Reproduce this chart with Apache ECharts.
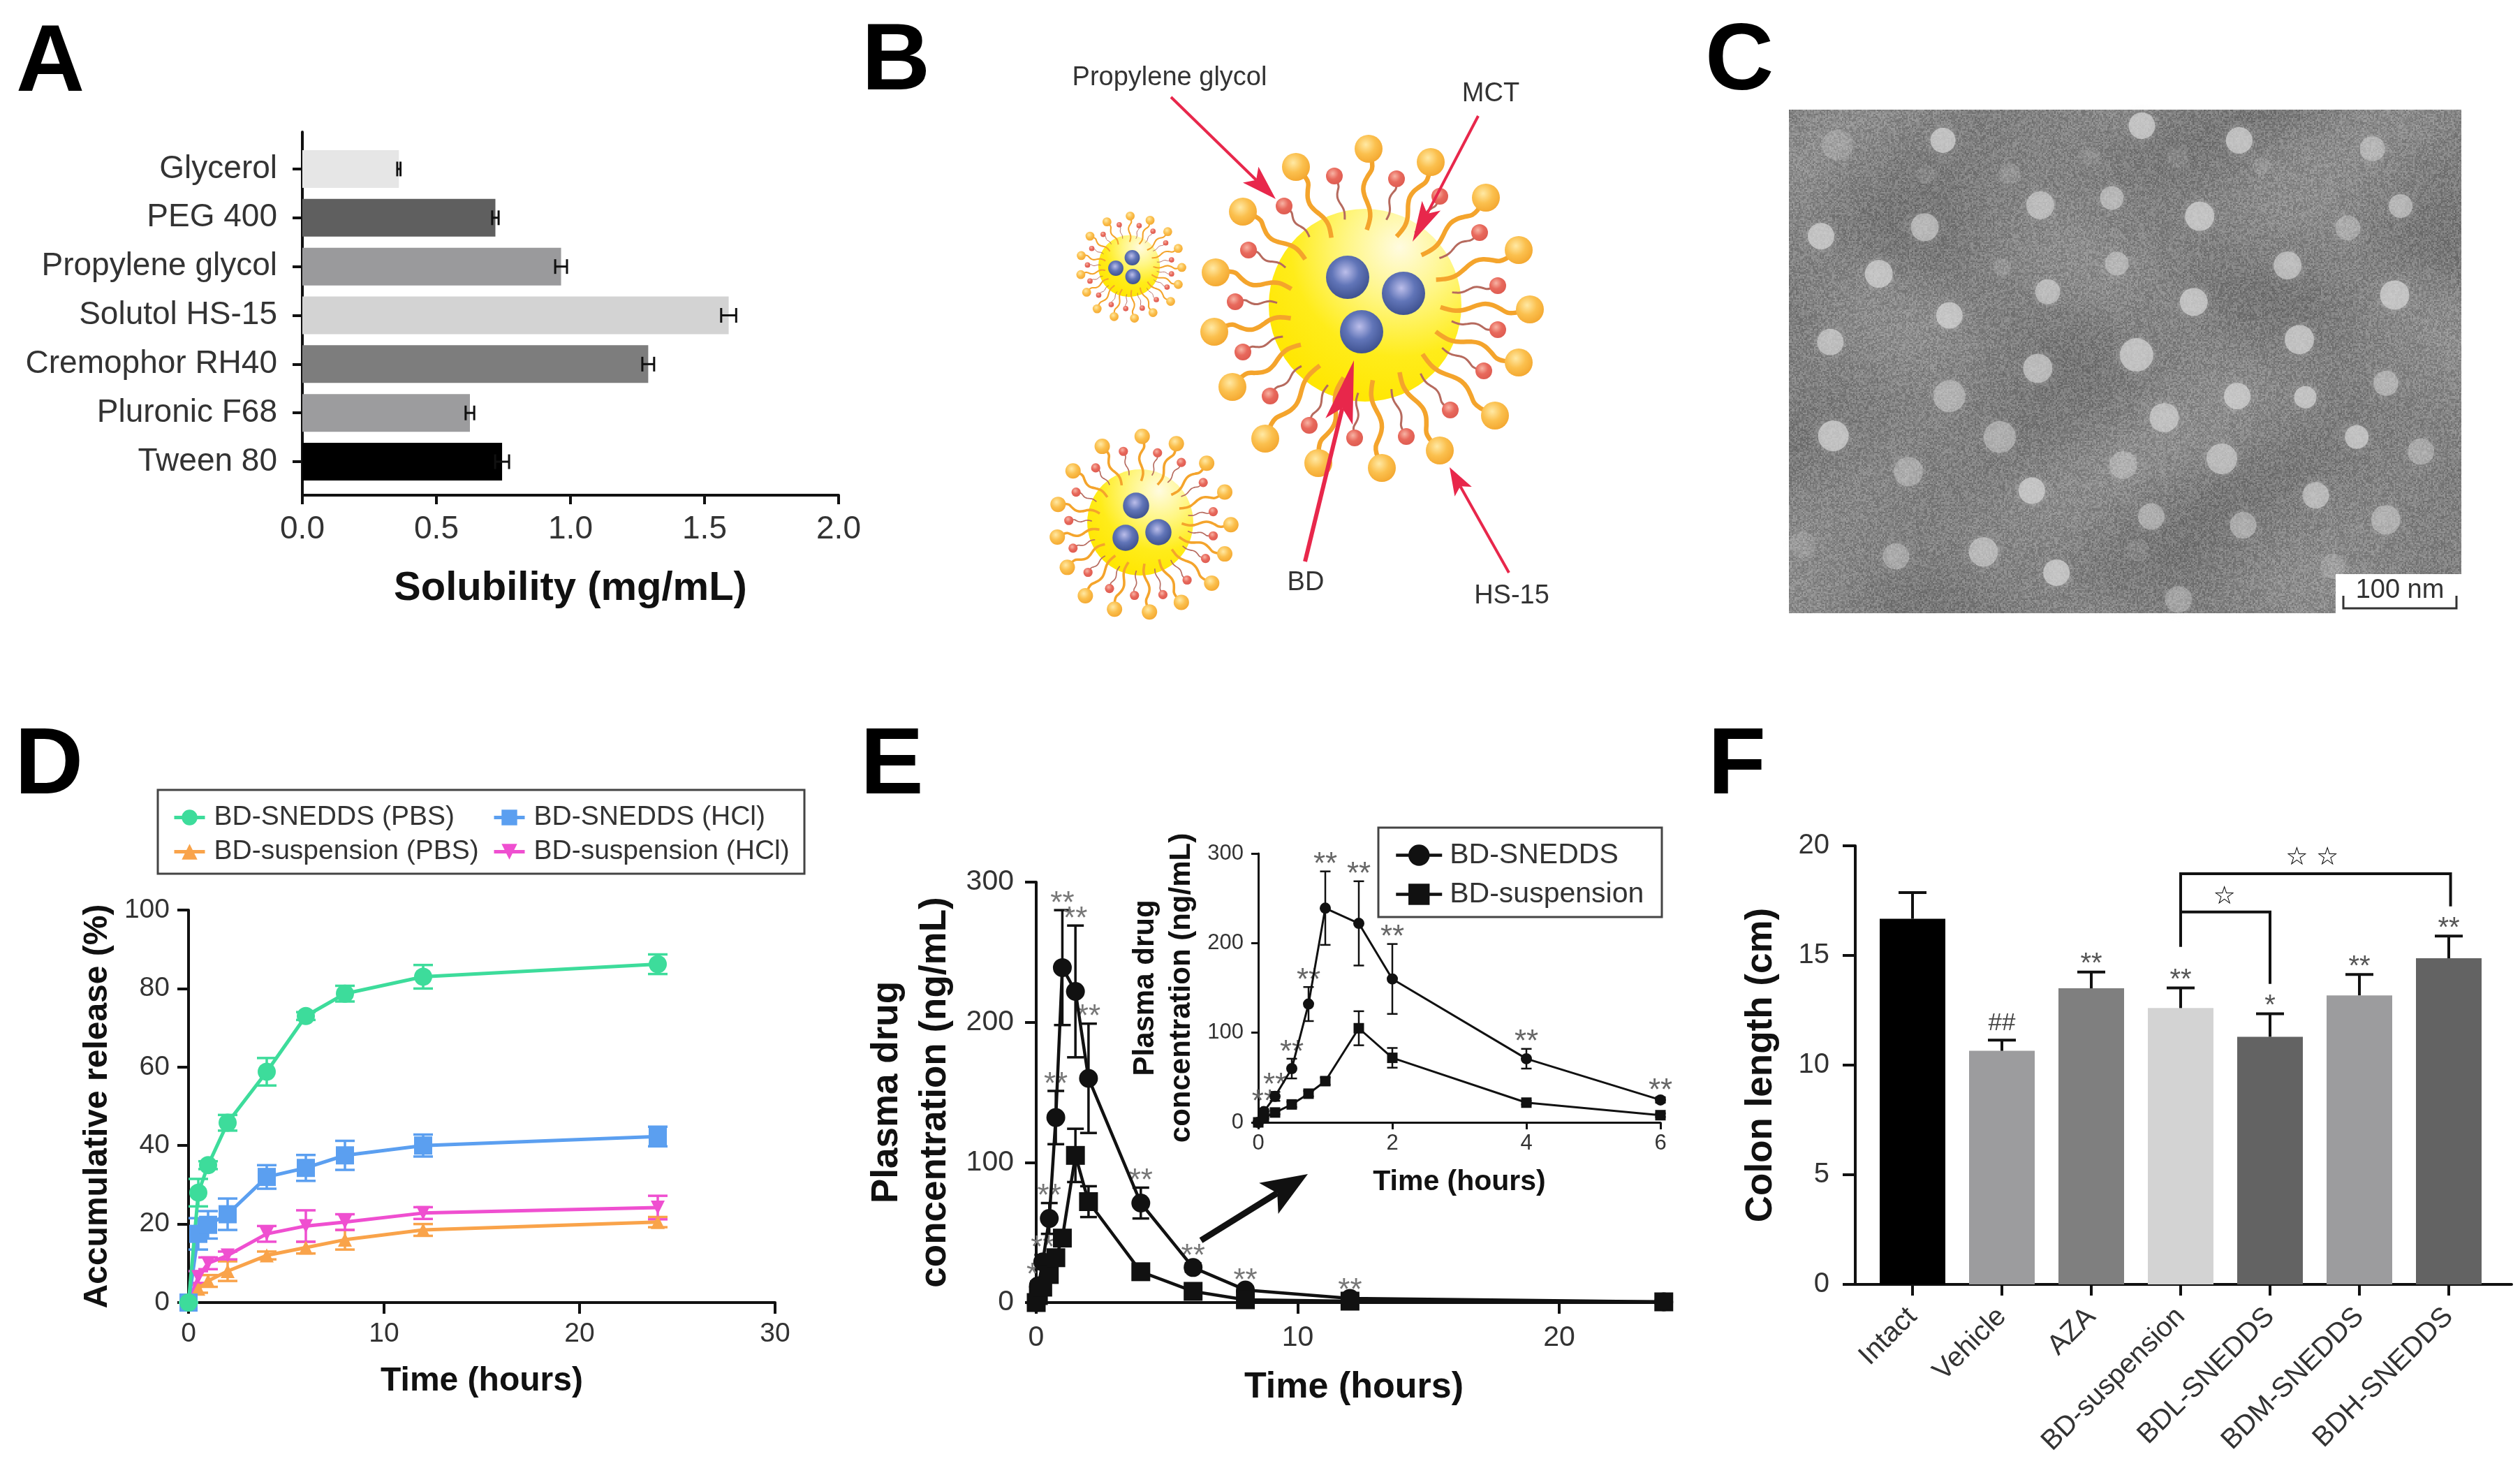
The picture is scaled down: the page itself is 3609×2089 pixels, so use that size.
<!DOCTYPE html>
<html>
<head>
<meta charset="utf-8">
<style>html,body{margin:0;padding:0;background:#fff}#chart{width:3609px;height:2089px}</style>
<script src="https://cdn.jsdelivr.net/npm/echarts@6/dist/echarts.min.js"></script>
</head>
<body>
<div id="chart"></div>
<script>
// panel A
const solvents = ['Glycerol', 'PEG 400', 'Propylene glycol', 'Solutol HS-15', 'Cremophor RH40', 'Pluronic F68', 'Tween 80'];
const solubility = [0.36, 0.72, 0.965, 1.59, 1.29, 0.625, 0.745];
const solubilityErr = [0.006, 0.012, 0.022, 0.028, 0.022, 0.016, 0.026];
const solventColors = ['#e6e6e6', '#5f5f5f', '#9a9a9c', '#d3d3d3', '#7d7d7d', '#9c9c9e', '#000000'];

// panel C, particle x, y, diameter, strength
const temParticles = [
  [400,192,36,1],[803,152,38,1],[1000,192,38,1],[1270,215,36,.7],[597,370,40,.85],[742,350,34,.8],[920,400,42,1],
  [1327,372,34,.8],[363,430,40,.85],[153,455,38,1],[1220,432,36,.55],[1098,535,40,.9],[752,530,34,.7],[270,558,40,1],
  [612,607,36,.85],[908,635,40,1],[1315,616,42,1],[413,672,38,1],[172,745,38,.9],[1122,738,42,1],[792,780,48,1],
  [592,817,42,.9],[1297,858,36,.7],[996,893,38,1],[1134,896,32,1],[413,893,46,.65],[848,952,42,.9],[178,1002,44,1],
  [515,1005,46,.65],[1238,1005,34,1],[1368,1045,38,.55],[965,1065,44,.85],[330,1100,42,.55],[765,1082,40,.55],[580,1152,38,1],
  [1155,1165,38,.85],[822,1223,38,.65],[1008,1247,38,.65],[1297,1232,42,.65],[482,1320,42,.8],[305,1332,38,.55],[630,1377,38,1],
  [877,1450,38,.5],[115,1300,38,.22],[186,205,44,.32],[1190,1360,36,.3],[795,1315,32,.16],[535,283,30,.25],[365,285,26,.16],
  [700,235,26,.16],[875,240,30,.16],[1045,262,26,.2],[520,540,26,.25]
];

// panel D
const releaseTime = [0, 0.5, 1, 2, 4, 6, 8, 12, 24];
const sneddsPbs = [0, 28, 35, 45.8, 58.8, 73, 78.7, 83, 86.2];
const sneddsPbsErr = [0, 3.5, 1, 2, 3.5, 1, 2, 3, 2.5];
const sneddsHcl = [0, 17.5, 19.8, 22.5, 32, 34.3, 37.5, 40, 42.3];
const sneddsHclErr = [0, 4, 3.5, 4, 3, 3.3, 3.7, 2.8, 2.5];
const suspPbs = [0, 3.5, 5.5, 8, 12, 14, 16, 18.5, 20.5];
const suspPbsErr = [0, 1, 1.5, 2.5, 1, 1.5, 2.5, 1.5, 1.3];
const suspHcl = [0, 6.5, 10, 12, 17.5, 19.5, 20.5, 22.8, 24.2];
const suspHclErr = [0, 1.5, 1.5, 1, 2, 4, 2, 1.5, 3];

// panel E
const plasmaTime = [0, 0.083, 0.25, 0.5, 0.75, 1, 1.5, 2, 4, 6, 8, 12, 24];
const plasmaSnedds = [0, 12, 29, 60, 132, 239, 222, 160, 71, 25, 9, 3, 0.5];
const plasmaSneddsErr = [0, 3, 5, 11, 19, 41, 47, 39, 11, 3, 2, 1, 0];
const plasmaSusp = [0, 5, 11, 20, 32, 46, 105, 72, 22, 8, 2, 1, 0.5];
const plasmaSuspErr = [0, 1, 2, 3, 3, 4, 19, 11, 2, 2, 1, 0.5, 0];

// panel F
const groups = ['Intact', 'Vehicle', 'AZA', 'BD-suspension', 'BDL-SNEDDS', 'BDM-SNEDDS', 'BDH-SNEDDS'];
const colonLength = [16.67, 10.65, 13.5, 12.6, 11.29, 13.18, 14.87];
const colonErr = [1.2, 0.49, 0.74, 0.92, 1.05, 0.95, 1.01];
const colonMarks = ['', '', '**', '**', '*', '**', '**'];
const colonHashes = ['', '##', '', '', '', '', ''];
const groupColors = ['#000000', '#9c9c9e', '#7f7f7f', '#d3d3d3', '#636363', '#9c9c9e', '#636363'];
// from, to, top, bottom at from, bottom at to
const colonBrackets = [[3, 6.02, 18.73, 15.4, 17.24], [3, 4, 16.98, 15.4, 13.7]];
const colonStars = [[4.47, 19.45, '\u2606 \u2606'], [3.49, 17.65, '\u2606']];

const FONT = '"Liberation Sans", Arial, sans-serif';
const INK = '#333333';
const GREEN = '#3ddc9b', BLUE = '#5b9ff0', ORANGE = '#f9a34a', PINK = '#ef4fd0';

function errorBars(xi, yi, rows, color, cap, lw, horizontal, topOnly) {
  return {
    type: 'custom', xAxisIndex: xi, yAxisIndex: yi, silent: true, clip: false, z: 3,
    data: rows,
    encode: horizontal ? { x: [0, 1], y: 2 } : { x: 0, y: [1, 2] },
    renderItem: function (params, api) {
      const a = horizontal ? api.coord([api.value(0), api.value(2)]) : api.coord([api.value(0), api.value(1)]);
      const b = horizontal ? api.coord([api.value(1), api.value(2)]) : api.coord([api.value(0), api.value(2)]);
      const style = { stroke: color, lineWidth: lw, fill: null };
      const capAt = p => horizontal
        ? { type: 'line', shape: { x1: p[0], y1: p[1] - cap / 2, x2: p[0], y2: p[1] + cap / 2 }, style }
        : { type: 'line', shape: { x1: p[0] - cap / 2, y1: p[1], x2: p[0] + cap / 2, y2: p[1] }, style };
      const kids = [{ type: 'line', shape: { x1: a[0], y1: a[1], x2: b[0], y2: b[1] }, style }, capAt(b)];
      if (!topOnly) kids.push(capAt(a));
      return { type: 'group', children: kids };
    }
  };
}

function spreadRows(xs, ys, errs) {
  return xs.map((x, i) => [x, ys[i] - errs[i], ys[i] + errs[i]]);
}

function marks(xi, yi, rows, size, color, dist, family) {
  return {
    type: 'scatter', xAxisIndex: xi, yAxisIndex: yi, silent: true, clip: false, z: 4,
    symbolSize: 1, itemStyle: { opacity: 0 },
    data: rows,
    label: {
      show: true, position: dist === null ? 'inside' : 'top', distance: dist || 0,
      formatter: p => p.data[2], fontSize: size, color: color, fontFamily: family || FONT, opacity: 1
    }
  };
}

function lineSeries(name, xi, yi, xs, ys, color, symbol, size, lw, rotate) {
  return {
    name: name, type: 'line', xAxisIndex: xi, yAxisIndex: yi, clip: false, z: 5,
    symbol: symbol, symbolSize: size, symbolRotate: rotate || 0, showAllSymbol: true,
    lineStyle: { color: color, width: lw }, itemStyle: { color: color, opacity: 1 },
    data: xs.map((x, i) => [x, ys[i]])
  };
}

function plainAxis(extra) {
  return Object.assign({
    type: 'value', nameLocation: 'middle', nameMoveOverlap: false, splitLine: { show: false },
    axisLine: { show: true, onZero: false, lineStyle: { color: '#111', width: 4 } },
    axisTick: { show: true, length: 16, lineStyle: { color: '#111', width: 4 } },
    nameTextStyle: { fontFamily: FONT, fontWeight: 'bold', color: '#111', fontSize: 50 }
  }, extra);
}

function tickFont(size, margin) {
  return { fontFamily: FONT, color: INK, fontSize: size, margin: margin };
}

function box(left, top, width, height) {
  return { left, top, width, height, containLabel: false, outerBoundsMode: 'none' };
}

// panel B drawing
const orangeHeads = [[5,-224],[94,-205],[173,-154],[220,-79],[236,6],[220,82],[186,158],[107,208],[24,233],[-67,226],[-143,191],[-190,117],[-216,38],[-214,-47],[-175,-134],[-99,-198]];
const redHeads = [[-44,-185],[45,-181],[107,-156],[164,-104],[190,-28],[190,35],[170,94],[122,150],[59,188],[-15,190],[-80,172],[-136,130],[-175,67],[-186,-5],[-167,-79],[-116,-142]];
const bubbles = [
  { x: 1955, y: 437, k: 1, spheres: [[-25,-40],[55,-17],[-5,38]] },
  { x: 1617, y: 381, k: 0.32, spheres: [[4.5,-12],[-19,3],[5.5,15]] },
  { x: 1633, y: 748, k: 0.55, spheres: [[-6,-24],[-21,22],[26,14]] }
];

function radial(x, y, r, stops) {
  return { type: 'radial', x, y, r, colorStops: stops.map((c, i) => ({ offset: i / (stops.length - 1), color: c })) };
}

function tail(b, head, innerR, amp, color, lw) {
  const hx = b.x + head[0] * b.k, hy = b.y + head[1] * b.k;
  const len = Math.hypot(head[0], head[1]);
  const ux = head[0] / len, uy = head[1] / len;
  const ex = b.x + ux * innerR * b.k, ey = b.y + uy * innerR * b.k;
  const pts = [];
  for (let i = 0; i <= 12; i++) {
    const t = i / 12;
    const w = Math.sin(t * Math.PI * 3) * amp * b.k * Math.min(1, t * 4) * (1 - t * 0.6);
    pts.push([hx + (ex - hx) * t - uy * w, hy + (ey - hy) * t + ux * w]);
  }
  return { type: 'polyline', shape: { points: pts, smooth: 0.4 }, style: { stroke: color, lineWidth: Math.max(1, lw * b.k), fill: null }, z: 2 };
}

function drawBubble(b) {
  const out = [{
    type: 'circle', shape: { cx: b.x, cy: b.y, r: 138 * b.k }, z: 1,
    style: { fill: radial(0.68, 0.2, 0.85, ['#fffbe0', '#fff683', '#ffec1a', '#ffe600']) }
  }];
  orangeHeads.forEach(h => {
    out.push(tail(b, h, 108, 9, '#f4a42c', 6.5));
    out.push({
      type: 'circle', shape: { cx: b.x + h[0] * b.k, cy: b.y + h[1] * b.k, r: 20 * b.k }, z: 3,
      style: { fill: radial(0.4, 0.35, 0.7, ['#ffe9a4', '#fbc04e', '#f3a62e']) }
    });
  });
  redHeads.forEach(h => {
    out.push(tail(b, h, 126, 4, '#b66a5e', 3));
    out.push({
      type: 'circle', shape: { cx: b.x + h[0] * b.k, cy: b.y + h[1] * b.k, r: 12 * b.k }, z: 3,
      style: { fill: radial(0.4, 0.35, 0.7, ['#f7b3a4', '#e8695c', '#dd5a50']) }
    });
  });
  b.spheres.forEach(s => {
    out.push({
      type: 'circle', shape: { cx: b.x + s[0], cy: b.y + s[1], r: 31 * (b.k === 1 ? 1 : b.k * 1.1) }, z: 4,
      style: { fill: radial(0.45, 0.38, 0.62, ['#bcbeea', '#6175b8', '#3f5290']) }
    });
  });
  return out;
}

function arrow(x1, y1, x2, y2, color, lw, len, wid) {
  const d = Math.hypot(x2 - x1, y2 - y1), ux = (x2 - x1) / d, uy = (y2 - y1) / d;
  const bx = x2 - ux * len, by = y2 - uy * len;
  const nx = bx + ux * len * 0.22, ny = by + uy * len * 0.22;
  return [
    { type: 'line', shape: { x1, y1, x2: nx, y2: ny }, style: { stroke: color, lineWidth: lw }, z: 6 },
    { type: 'polygon', z: 6, shape: { points: [[x2, y2], [bx - uy * wid, by + ux * wid], [nx, ny], [bx + uy * wid, by - ux * wid]] }, style: { fill: color } }
  ];
}

function label(text, x, y, size, extra) {
  return {
    type: 'text', z: 7, x, y,
    style: Object.assign({ text, font: size + 'px ' + FONT, fill: INK, align: 'center', verticalAlign: 'middle' }, extra || {})
  };
}

// panel C grain, a fixed hash pattern, not data
function temTexture(w, h) {
  const c = document.createElement('canvas');
  c.width = w; c.height = h;
  const ctx = c.getContext('2d');
  const img = ctx.createImageData(w, h);
  for (let y = 0; y < h; y++) {
    for (let x = 0; x < w; x++) {
      const gx = x >> 1, gy = y >> 1;
      const s = Math.sin(gx * 12.9898 + gy * 78.233) * 43758.5453;
      const n = s - Math.floor(s) - 0.5;
      const m = Math.sin(x / 61 + Math.sin(y / 83) * 2) * 6 + Math.sin(y / 47 + x / 131) * 5;
      const v = 130 + n * 42 + m;
      const p = (y * w + x) * 4;
      img.data[p] = img.data[p + 1] = img.data[p + 2] = v;
      img.data[p + 3] = 255;
    }
  }
  ctx.putImageData(img, 0, 0);
  return c;
}

const graphics = [];
bubbles.forEach(b => graphics.push(...drawBubble(b)));
const RED = '#e8274b';
graphics.push(...arrow(1677, 139, 1827, 285, RED, 4, 50, 16));
graphics.push(...arrow(2117, 166, 2023, 346, RED, 4, 58, 15));
graphics.push(...arrow(1869, 804, 1939, 516, RED, 6, 90, 20));
graphics.push(...arrow(2161, 820, 2076, 669, RED, 4, 40, 14));
graphics.push(label('Propylene glycol', 1675, 112, 38));
graphics.push(label('MCT', 2135, 135, 38));
graphics.push(label('BD', 1870, 835, 38));
graphics.push(label('HS-15', 2165, 854, 38));

const grain = temTexture(963, 721);
graphics.push({ type: 'image', z: 0, style: { image: grain, x: 2562, y: 157, width: 963, height: 721 } });
graphics.push({ type: 'image', z: 5, silent: true, style: { image: grain, x: 2562, y: 157, width: 963, height: 721, opacity: 0.18 } });
graphics.push({ type: 'rect', z: 10, shape: { x: 3345, y: 822, width: 180, height: 56 }, style: { fill: '#fff' } });
graphics.push({ type: 'polyline', z: 11, shape: { points: [[3356, 853], [3356, 871], [3518, 871], [3518, 853]] }, style: { stroke: '#333', lineWidth: 3, fill: null } });
graphics.push(Object.assign(label('100 nm', 3437, 846, 38), { z: 11 }));

graphics.push({ type: 'rect', z: 1, shape: { x: 226, y: 1131, width: 926, height: 120 }, style: { fill: '#fff', stroke: '#444', lineWidth: 3 } });
graphics.push({ type: 'rect', z: 8, shape: { x: 1974, y: 1185, width: 406, height: 128 }, style: { fill: 'rgba(255,255,255,0)', stroke: '#444', lineWidth: 3 } });
graphics.push(...arrow(1720, 1776, 1873, 1681, '#111', 9, 66, 26));

const legendText = { fontFamily: FONT, fontSize: 39, color: INK, padding: [0, 0, 0, 8] };
const insetLegendText = { fontFamily: FONT, fontSize: 41, color: INK, padding: [0, 0, 0, 6] };
const insetCount = 10; // inset stops at 6 h

const option = {
  animation: false,
  backgroundColor: '#fff',
  textStyle: { fontFamily: FONT },
  title: [
    ['A', 23, 24], ['B', 1234, 22], ['C', 2442, 22], ['D', 21, 1030], ['E', 1232, 1030], ['F', 2446, 1030]
  ].map(t => ({
    text: t[0], left: t[1], top: t[2], padding: 0,
    textStyle: { fontFamily: FONT, fontWeight: 'bold', fontSize: 136, color: '#000' }
  })),
  legend: [
    { left: 247, top: 1151, orient: 'vertical', padding: 0, itemWidth: 44, itemHeight: 28, itemGap: 10, z: 6, selectedMode: false, lineStyle: { width: 5 }, data: ['BD-SNEDDS (PBS)', 'BD-suspension (PBS)'], textStyle: legendText },
    { left: 705, top: 1151, orient: 'vertical', padding: 0, itemWidth: 44, itemHeight: 28, itemGap: 10, z: 6, selectedMode: false, lineStyle: { width: 5 }, data: ['BD-SNEDDS (HCl)', 'BD-suspension (HCl)'], textStyle: legendText },
    { left: 1997, top: 1204, orient: 'vertical', padding: 0, itemWidth: 66, itemHeight: 38, itemGap: 15, z: 9, selectedMode: false, lineStyle: { width: 4.5 }, data: ['BD-SNEDDS', 'BD-suspension'], textStyle: insetLegendText }
  ],
  graphic: { elements: graphics },
  grid: [
    box(433, 189, 768, 520),   // 0 A frame
    box(433, 207, 768, 489),   // 1 A bars
    box(270, 1303, 840, 562),  // 2 D
    box(1484, 1263, 910, 602), // 3 E main
    box(1802, 1222, 576, 385), // 4 E inset
    box(2657, 1211, 940, 628), // 5 F frame
    box(2675, 1211, 896, 628), // 6 F bars
    box(2562, 157, 963, 721)   // 7 C
  ],
  xAxis: [
    plainAxis({
      gridIndex: 0, min: 0, max: 2, interval: 0.5, name: 'Solubility (mg/mL)', nameGap: 105,
      nameTextStyle: { fontFamily: FONT, fontWeight: 'bold', color: '#111', fontSize: 58 },
      axisTick: { length: 13, lineStyle: { color: '#111', width: 4 } },
      axisLabel: Object.assign(tickFont(46, 26), { formatter: v => v.toFixed(1) })
    }),
    { type: 'value', gridIndex: 1, min: 0, max: 2, show: false },
    plainAxis({
      gridIndex: 2, min: 0, max: 30, interval: 10, name: 'Time (hours)', nameGap: 89,
      nameTextStyle: { fontFamily: FONT, fontWeight: 'bold', color: '#111', fontSize: 48 },
      axisLabel: tickFont(39, 26)
    }),
    plainAxis({
      gridIndex: 3, min: 0, max: 24.3, name: 'Time (hours)', nameGap: 96,
      nameTextStyle: { fontFamily: FONT, fontWeight: 'bold', color: '#111', fontSize: 52 },
      axisTick: { length: 16, customValues: [0, 10, 20], lineStyle: { color: '#111', width: 4 } },
      axisLabel: Object.assign(tickFont(41, 30), { customValues: [0, 10, 20] })
    }),
    plainAxis({
      gridIndex: 4, min: 0, max: 6, interval: 2, name: 'Time (hours)', nameGap: 65,
      axisLine: { show: true, onZero: false, lineStyle: { color: '#111', width: 3 } },
      axisTick: { length: 10, lineStyle: { color: '#111', width: 3 } },
      nameTextStyle: { fontFamily: FONT, fontWeight: 'bold', color: '#111', fontSize: 41 },
      axisLabel: tickFont(31, 15)
    }),
    plainAxis({ gridIndex: 5, min: 0, max: 1, axisTick: { show: false }, axisLabel: { show: false } }),
    {
      type: 'category', gridIndex: 6, data: groups,
      axisLine: { show: false },
      axisTick: { show: true, alignWithLabel: true, length: 16, lineStyle: { color: '#111', width: 4 } },
      axisLabel: Object.assign(tickFont(40, 40), { rotate: 45, interval: 0 })
    },
    { type: 'value', gridIndex: 6, min: -0.5, max: 6.5, show: false },
    { type: 'value', gridIndex: 7, min: 88, max: 1450, show: false }
  ],
  yAxis: [
    plainAxis({ gridIndex: 0, min: 0, max: 1, axisTick: { show: false }, axisLabel: { show: false } }),
    {
      type: 'category', gridIndex: 1, data: solvents, inverse: true,
      axisLine: { show: false },
      axisTick: { show: true, alignWithLabel: true, length: 14, lineStyle: { color: '#111', width: 4 } },
      axisLabel: Object.assign(tickFont(46, 36), { interval: 0 })
    },
    plainAxis({
      gridIndex: 2, min: 0, max: 100, interval: 20, name: 'Accumulative release (%)', nameGap: 106,
      nameTextStyle: { fontFamily: FONT, fontWeight: 'bold', color: '#111', fontSize: 48 },
      axisLabel: tickFont(39, 27)
    }),
    plainAxis({
      gridIndex: 3, min: 0, max: 300, interval: 100, name: 'Plasma drug\nconcentration (ng/mL)', nameGap: 110,
      nameTextStyle: { fontFamily: FONT, fontWeight: 'bold', color: '#111', fontSize: 53, lineHeight: 69 },
      axisLabel: tickFont(41, 32)
    }),
    plainAxis({
      gridIndex: 4, min: 0, max: 300, interval: 100, name: 'Plasma drug\nconcentration (ng/mL)', nameGap: 84,
      axisLine: { show: true, onZero: false, lineStyle: { color: '#111', width: 3 } },
      axisTick: { length: 10, lineStyle: { color: '#111', width: 3 } },
      nameTextStyle: { fontFamily: FONT, fontWeight: 'bold', color: '#111', fontSize: 42, lineHeight: 52 },
      axisLabel: tickFont(31, 21)
    }),
    plainAxis({
      gridIndex: 5, min: 0, max: 20, interval: 5, name: 'Colon length (cm)', nameGap: 108,
      axisTick: { length: 18, lineStyle: { color: '#111', width: 4 } },
      nameTextStyle: { fontFamily: FONT, fontWeight: 'bold', color: '#111', fontSize: 53 },
      axisLabel: tickFont(40, 37)
    }),
    { type: 'value', gridIndex: 6, min: 0, max: 20, show: false },
    { type: 'value', gridIndex: 7, min: 108, max: 1488, inverse: true, show: false }
  ],
  series: [
    // A
    {
      type: 'bar', xAxisIndex: 1, yAxisIndex: 1, barWidth: 54,
      data: solubility.map((v, i) => ({ value: v, itemStyle: { color: solventColors[i] } }))
    },
    errorBars(1, 1, solvents.map((n, i) => [solubility[i] - solubilityErr[i], solubility[i] + solubilityErr[i], n]), '#111', 21, 3, true),

    // C
    {
      type: 'scatter', xAxisIndex: 8, yAxisIndex: 7, z: 2, silent: true,
      data: temParticles,
      symbolSize: v => v[2],
      itemStyle: {
        color: p => 'rgba(222,222,222,' + p.data[3] + ')',
        shadowBlur: 14, shadowColor: 'rgba(205,205,205,0.55)'
      }
    },

    // D
    errorBars(2, 2, spreadRows(releaseTime, suspPbs, suspPbsErr), ORANGE, 28, 3.5),
    errorBars(2, 2, spreadRows(releaseTime, suspHcl, suspHclErr), PINK, 28, 3.5),
    errorBars(2, 2, spreadRows(releaseTime, sneddsHcl, sneddsHclErr), BLUE, 28, 3.5),
    errorBars(2, 2, spreadRows(releaseTime, sneddsPbs, sneddsPbsErr), GREEN, 28, 3.5),
    lineSeries('BD-suspension (PBS)', 2, 2, releaseTime, suspPbs, ORANGE, 'triangle', 20, 5),
    lineSeries('BD-suspension (HCl)', 2, 2, releaseTime, suspHcl, PINK, 'triangle', 20, 5, 180),
    lineSeries('BD-SNEDDS (HCl)', 2, 2, releaseTime, sneddsHcl, BLUE, 'rect', 26, 5),
    lineSeries('BD-SNEDDS (PBS)', 2, 2, releaseTime, sneddsPbs, GREEN, 'circle', 26, 5),

    // E main
    errorBars(3, 3, spreadRows(plasmaTime, plasmaSnedds, plasmaSneddsErr), '#111', 24, 3.5),
    errorBars(3, 3, spreadRows(plasmaTime, plasmaSusp, plasmaSuspErr), '#111', 24, 3.5),
    lineSeries('BD-SNEDDS', 3, 3, plasmaTime, plasmaSnedds, '#111', 'circle', 27, 4.5),
    lineSeries('BD-suspension', 3, 3, plasmaTime, plasmaSusp, '#111', 'rect', 27, 4.5),
    marks(3, 3, plasmaTime.slice(1, 12).map((t, i) => [t, plasmaSnedds[i + 1] + plasmaSneddsErr[i + 1], '**']), 44, '#777', -14),

    // E inset
    errorBars(4, 4, spreadRows(plasmaTime.slice(0, insetCount), plasmaSnedds, plasmaSneddsErr), '#111', 15, 2.5),
    errorBars(4, 4, spreadRows(plasmaTime.slice(0, insetCount), plasmaSusp, plasmaSuspErr), '#111', 15, 2.5),
    lineSeries('BD-SNEDDS', 4, 4, plasmaTime.slice(0, insetCount), plasmaSnedds, '#111', 'circle', 16, 3),
    lineSeries('BD-suspension', 4, 4, plasmaTime.slice(0, insetCount), plasmaSusp, '#111', 'rect', 15, 3),
    marks(4, 4, plasmaTime.slice(1, insetCount).map((t, i) => [t, plasmaSnedds[i + 1] + plasmaSneddsErr[i + 1], '**']), 44, '#666', -14),

    // F
    {
      type: 'bar', xAxisIndex: 6, yAxisIndex: 6, barWidth: 94,
      data: colonLength.map((v, i) => ({ value: v, itemStyle: { color: groupColors[i] } }))
    },
    errorBars(6, 6, groups.map((n, i) => [n, colonLength[i], colonLength[i] + colonErr[i]]), '#111', 40, 4, false, true),
    marks(6, 6, groups.map((n, i) => [n, colonLength[i] + colonErr[i], colonMarks[i]]), 40, '#555', -10),
    marks(6, 6, groups.map((n, i) => [n, colonLength[i] + colonErr[i], colonHashes[i]]), 35, '#444', 6),
    {
      type: 'custom', xAxisIndex: 7, yAxisIndex: 6, silent: true, clip: false, z: 4,
      data: colonBrackets,
      encode: { x: [0, 1], y: [2, 3, 4] },
      renderItem: function (params, api) {
        const a = api.coord([api.value(0), api.value(3)]);
        const b = api.coord([api.value(0), api.value(2)]);
        const c = api.coord([api.value(1), api.value(2)]);
        const d = api.coord([api.value(1), api.value(4)]);
        return { type: 'polyline', shape: { points: [a, b, c, d] }, style: { stroke: '#111', lineWidth: 4, fill: null } };
      }
    },
    marks(7, 6, colonStars, 36, '#000', null, '"DejaVu Sans"')
  ]
};

const chart = echarts.init(document.getElementById('chart'));
chart.setOption(option);
</script>
</body>
</html>
